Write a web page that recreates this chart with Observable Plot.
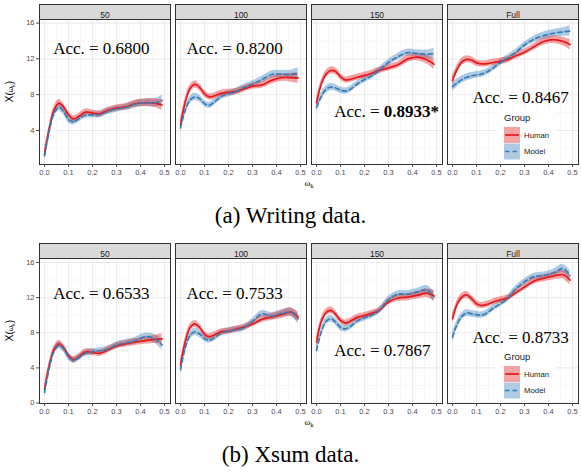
<!DOCTYPE html>
<html><head><meta charset="utf-8">
<script src="https://cdn.jsdelivr.net/npm/d3@7"></script>
<script src="https://cdn.jsdelivr.net/npm/@observablehq/plot@0.6"></script>
<style>
body{margin:0;background:#fff;}
#wrap{width:581px;}
.cap{font-family:"Liberation Serif","Times New Roman",serif;font-size:23px;text-align:center;color:#000;width:581px;}
svg{display:block;}
</style></head><body><div id="wrap"></div>
<script>
// ---------- data ----------
const panels = ["50", "100", "150", "Full"];
const groups = ["Human", "Model"];
const xs = [0, 0.02, 0.04, 0.06, 0.08, 0.10, 0.12, 0.14, 0.17, 0.20, 0.23, 0.26, 0.30, 0.34, 0.38, 0.42, 0.46, 0.49];
const bandHalf = [0.55, 0.45, 0.4, 0.4, 0.38, 0.36, 0.35, 0.35, 0.35, 0.35, 0.35, 0.35, 0.35, 0.37, 0.4, 0.42, 0.48, 0.6];

// (a) Writing data
const writing50Human   = [1.3, 4.2, 6.3, 7.05, 6.6, 5.75, 5.3, 5.5, 6.05, 5.95, 5.85, 6.2, 6.5, 6.65, 7.0, 7.1, 7.05, 6.85];
const writing50Model   = [1.2, 4.0, 5.9, 6.6, 6.1, 5.2, 4.95, 5.25, 5.7, 5.75, 5.75, 6.1, 6.4, 6.6, 6.95, 7.1, 7.1, 7.35];
const writing100Human  = [4.6, 7.2, 8.7, 9.15, 8.8, 8.1, 7.75, 7.85, 8.15, 8.25, 8.35, 8.6, 8.95, 9.1, 9.6, 9.9, 9.9, 9.85];
const writing100Model  = [4.3, 6.3, 7.4, 7.75, 7.55, 7.0, 6.8, 7.15, 7.8, 8.1, 8.35, 8.75, 9.2, 9.7, 10.25, 10.3, 10.25, 10.4];
const writing150Human  = [7.1, 9.2, 10.3, 10.7, 10.6, 10.0, 9.65, 9.7, 9.95, 10.15, 10.4, 10.7, 11.0, 11.35, 12.0, 12.2, 11.9, 11.4];
const writing150Model  = [6.6, 7.8, 8.6, 8.85, 8.75, 8.5, 8.4, 8.6, 9.2, 9.7, 10.1, 10.7, 11.6, 12.25, 12.7, 12.6, 12.5, 12.6];
const writingFullHuman = [9.6, 10.9, 11.7, 11.95, 11.85, 11.55, 11.45, 11.45, 11.6, 11.75, 11.9, 12.3, 12.75, 13.35, 13.95, 14.15, 13.95, 13.6];
const writingFullModel = [8.9, 9.35, 9.7, 9.95, 10.1, 10.2, 10.3, 10.5, 11.0, 11.6, 12.1, 12.65, 13.55, 14.2, 14.6, 14.85, 15.0, 15.1];
const writingAcc  = ["0.6800", "0.8200", "0.8933*", "0.8467"];
const writingBold = [false, false, true, false];

// (b) Xsum data
const xsum50Human   = [1.5, 4.3, 6.1, 6.75, 6.3, 5.4, 4.95, 5.2, 5.8, 5.75, 5.65, 6.0, 6.5, 6.75, 6.95, 7.1, 7.25, 7.3];
const xsum50Model   = [1.2, 4.0, 5.9, 6.55, 6.15, 5.25, 4.85, 5.1, 5.65, 5.85, 5.95, 6.1, 6.6, 6.85, 7.1, 7.55, 7.3, 6.6];
const xsum100Human  = [4.3, 7.0, 8.6, 9.0, 8.6, 7.85, 7.55, 7.75, 8.1, 8.2, 8.4, 8.6, 9.0, 9.55, 9.8, 10.05, 10.35, 9.8];
const xsum100Model  = [3.8, 6.3, 7.7, 8.1, 7.85, 7.35, 7.15, 7.4, 7.95, 8.2, 8.35, 8.5, 9.3, 10.15, 9.9, 10.2, 10.35, 9.6];
const xsum150Human  = [6.95, 9.3, 10.3, 10.55, 10.1, 9.4, 9.1, 9.3, 9.75, 9.95, 10.2, 10.5, 11.5, 11.95, 12.05, 12.25, 12.5, 12.2];
const xsum150Model  = [6.0, 8.1, 9.3, 9.6, 9.2, 8.6, 8.45, 8.7, 9.35, 9.7, 10.0, 10.5, 11.8, 12.4, 12.4, 12.65, 12.9, 12.1];
const xsumFullHuman = [9.6, 11.3, 12.1, 12.3, 11.85, 11.3, 11.1, 11.2, 11.5, 11.75, 11.95, 12.5, 13.2, 13.9, 14.2, 14.45, 14.6, 14.0];
const xsumFullModel = [7.5, 9.0, 9.9, 10.25, 10.15, 10.05, 10.0, 10.2, 10.8, 11.3, 11.9, 12.9, 13.8, 14.4, 14.5, 14.8, 15.3, 14.5];
const xsumAcc  = ["0.6533", "0.7533", "0.7867", "0.8733"];
const xsumBold = [false, false, false, false];

// annotation placement (data units of each panel)
const writingAccX = [0.2425, 0.231, 0.28, 0.289];
const writingAccY = [13.2, 13.2, 6.14, 7.64];
const xsumAccX = [0.2425, 0.231, 0.28, 0.289];
const xsumAccY = [12.45, 12.45, 6.02, 7.45];

const xTicks = [0, 0.1, 0.2, 0.3, 0.4, 0.5];
const xMinor = [0.05, 0.15, 0.25, 0.35, 0.45];
const yTicksAll = [0, 4, 8, 12, 16];
const yMinorAll = [2, 6, 10, 14];

const humanLine = "#E41A1C", modelLine = "#377EB8";

// ---------- build tables ----------
function table(seriesByPanel) {
  const rows = [];
  panels.forEach((p, pi) => {
    groups.forEach((g, gi) => {
      seriesByPanel[pi][gi].forEach((v, i) => {
        rows.push({panel: p, group: g, x: xs[i], y: v, lo: v - bandHalf[i], hi: v + bandHalf[i]});
      });
    });
  });
  return rows;
}
function accTable(acc, bold, ax, ay) {
  return panels.map((p, i) => ({panel: p, value: acc[i], bold: bold[i], x: ax[i], y: ay[i]}));
}

const writingRows = table([
  [writing50Human, writing50Model], [writing100Human, writing100Model],
  [writing150Human, writing150Model], [writingFullHuman, writingFullModel]]);
const xsumRows = table([
  [xsum50Human, xsum50Model], [xsum100Human, xsum100Model],
  [xsum150Human, xsum150Model], [xsumFullHuman, xsumFullModel]]);

function chart(rows, accRows, yDomain) {
  const inside = v => v >= yDomain[0] && v <= yDomain[1];
  const yMajor = yTicksAll.filter(inside);
  const yMinor = yMinorAll.filter(inside);
  const human = rows.filter(d => d.group === "Human");
  const model = rows.filter(d => d.group === "Model");
  const H = 195, mT = 19, mB = 31;
  const frameH = H - mT - mB;
  const serif = "'Liberation Serif', 'Times New Roman', serif";
  const sans = "'Liberation Sans', Arial, sans-serif";
  const svg = Plot.plot({
    width: 581, height: H,
    marginTop: mT, marginBottom: mB, marginLeft: 38, marginRight: 1,
    style: {fontFamily: sans, background: "#fff", overflow: "visible"},
    fx: {domain: panels, paddingInner: 0.0365, paddingOuter: 0, axis: null, label: null},
    x: {domain: [-0.021, 0.525], axis: null},
    y: {domain: yDomain, axis: null},
    marks: [
      Plot.gridX({ticks: xMinor, stroke: "#F2F2F2", strokeOpacity: 1, strokeWidth: 0.6}),
      Plot.gridY({ticks: yMinor, stroke: "#F2F2F2", strokeOpacity: 1, strokeWidth: 0.6}),
      Plot.gridX({ticks: xTicks, stroke: "#EBEBEB", strokeOpacity: 1, strokeWidth: 1.1}),
      Plot.gridY({ticks: yMajor, stroke: "#EBEBEB", strokeOpacity: 1, strokeWidth: 1.1}),
      Plot.areaY(model, {fx: "panel", x: "x", y1: "lo", y2: "hi", fill: modelLine, fillOpacity: 0.4, curve: "catmull-rom"}),
      Plot.areaY(human, {fx: "panel", x: "x", y1: "lo", y2: "hi", fill: humanLine, fillOpacity: 0.4, curve: "catmull-rom"}),
      Plot.line(human, {fx: "panel", x: "x", y: "y", stroke: humanLine, strokeWidth: 1.7, curve: "catmull-rom"}),
      Plot.line(model, {fx: "panel", x: "x", y: "y", stroke: modelLine, strokeWidth: 1.7, strokeDasharray: "4.5,3", curve: "catmull-rom"}),
      Plot.frame({stroke: "#333333", strokeWidth: 1}),
      Plot.frame({fill: "#D9D9D9", stroke: "#333333", strokeWidth: 1, insetBottom: frameH - 15, dy: -15}),
      Plot.text(panels, {fx: d => d, text: d => d, frameAnchor: "top", dy: -7.5, fontSize: 8.5, fill: "#1A1A1A"}),
      Plot.axisX({ticks: xTicks, tickFormat: d3.format(".1f"), tickSize: 3, tickPadding: 2, fontSize: 7.5, color: "#4D4D4D", label: null}),
      Plot.axisY({ticks: yMajor, tickSize: 3, tickPadding: 2, fontSize: 7.5, color: "#4D4D4D", label: null}),
      Plot.text(accRows, {fx: "panel", x: "x", y: "y", text: () => "Acc. =", textAnchor: "end", dx: -4, fontSize: 17, fontFamily: serif, fill: "#000"}),
      Plot.text(accRows.filter(d => !d.bold), {fx: "panel", x: "x", y: "y", text: "value", textAnchor: "start", fontSize: 17, fontFamily: serif, fill: "#000"}),
      Plot.text(accRows.filter(d => d.bold), {fx: "panel", x: "x", y: "y", text: "value", textAnchor: "start", fontWeight: "bold", fontSize: 17, fontFamily: serif, fill: "#000"})
    ]
  });

  const s = d3.select(svg);
  // y axis title X(ω_k)
  const yl = s.append("text")
    .attr("transform", `translate(13,${mT + frameH / 2}) rotate(-90)`)
    .attr("text-anchor", "middle")
    .attr("font-family", sans)
    .attr("font-size", 10).attr("fill", "#000");
  yl.append("tspan").text("X(");
  yl.append("tspan").attr("font-size", 7).text("ω");
  yl.append("tspan").attr("font-size", 5).attr("dy", 2).text("k");
  yl.append("tspan").attr("dy", -2).text(")");
  // x axis title ω_k
  const xl = s.append("text")
    .attr("x", 309).attr("y", mT + frameH + 22)
    .attr("text-anchor", "middle")
    .attr("font-family", serif)
    .attr("font-size", 9).attr("fill", "#000");
  xl.append("tspan").text("ω");
  xl.append("tspan").attr("font-size", 6).attr("dy", 2).text("k");

  // legend inside the Full panel
  const lg = s.append("g").attr("transform", "translate(497,108)").attr("text-anchor", "start");
  lg.append("rect").attr("width", 59).attr("height", 53).attr("fill", "#fff");
  lg.append("text").attr("x", 7).attr("y", 13).attr("font-size", 9.5).attr("fill", "#1A1A1A")
    .attr("text-anchor", "start").attr("font-family", sans).text("Group");
  [[humanLine, null, "Human", 19], [modelLine, "4.5,3", "Model", 35.5]].forEach(([c, dash, lab, y0]) => {
    lg.append("rect").attr("x", 7).attr("y", y0).attr("width", 16).attr("height", 16)
      .attr("fill", c).attr("fill-opacity", 0.4);
    lg.append("line").attr("x1", 8).attr("x2", 22).attr("y1", y0 + 8).attr("y2", y0 + 8)
      .attr("stroke", c).attr("stroke-width", 1.7).attr("stroke-dasharray", dash);
    lg.append("text").attr("x", 27).attr("y", y0 + 8).attr("dy", "0.35em").attr("font-size", 7.8)
      .attr("text-anchor", "start")
      .attr("fill", "#1A1A1A").attr("font-family", sans).text(lab);
  });
  return svg;
}

const wrap = document.getElementById("wrap");
wrap.appendChild(chart(writingRows, accTable(writingAcc, writingBold, writingAccX, writingAccY), [0.2, 16.4]));
const c1 = document.createElement("div");
c1.className = "cap"; c1.style.height = "44px"; c1.style.lineHeight = "42px";
c1.textContent = "(a) Writing data.";
wrap.appendChild(c1);
wrap.appendChild(chart(xsumRows, accTable(xsumAcc, xsumBold, xsumAccX, xsumAccY), [-0.05, 16.45]));
const c2 = document.createElement("div");
c2.className = "cap"; c2.style.height = "41px"; c2.style.lineHeight = "41px";
c2.textContent = "(b) Xsum data.";
wrap.appendChild(c2);
</script>
</body></html>
